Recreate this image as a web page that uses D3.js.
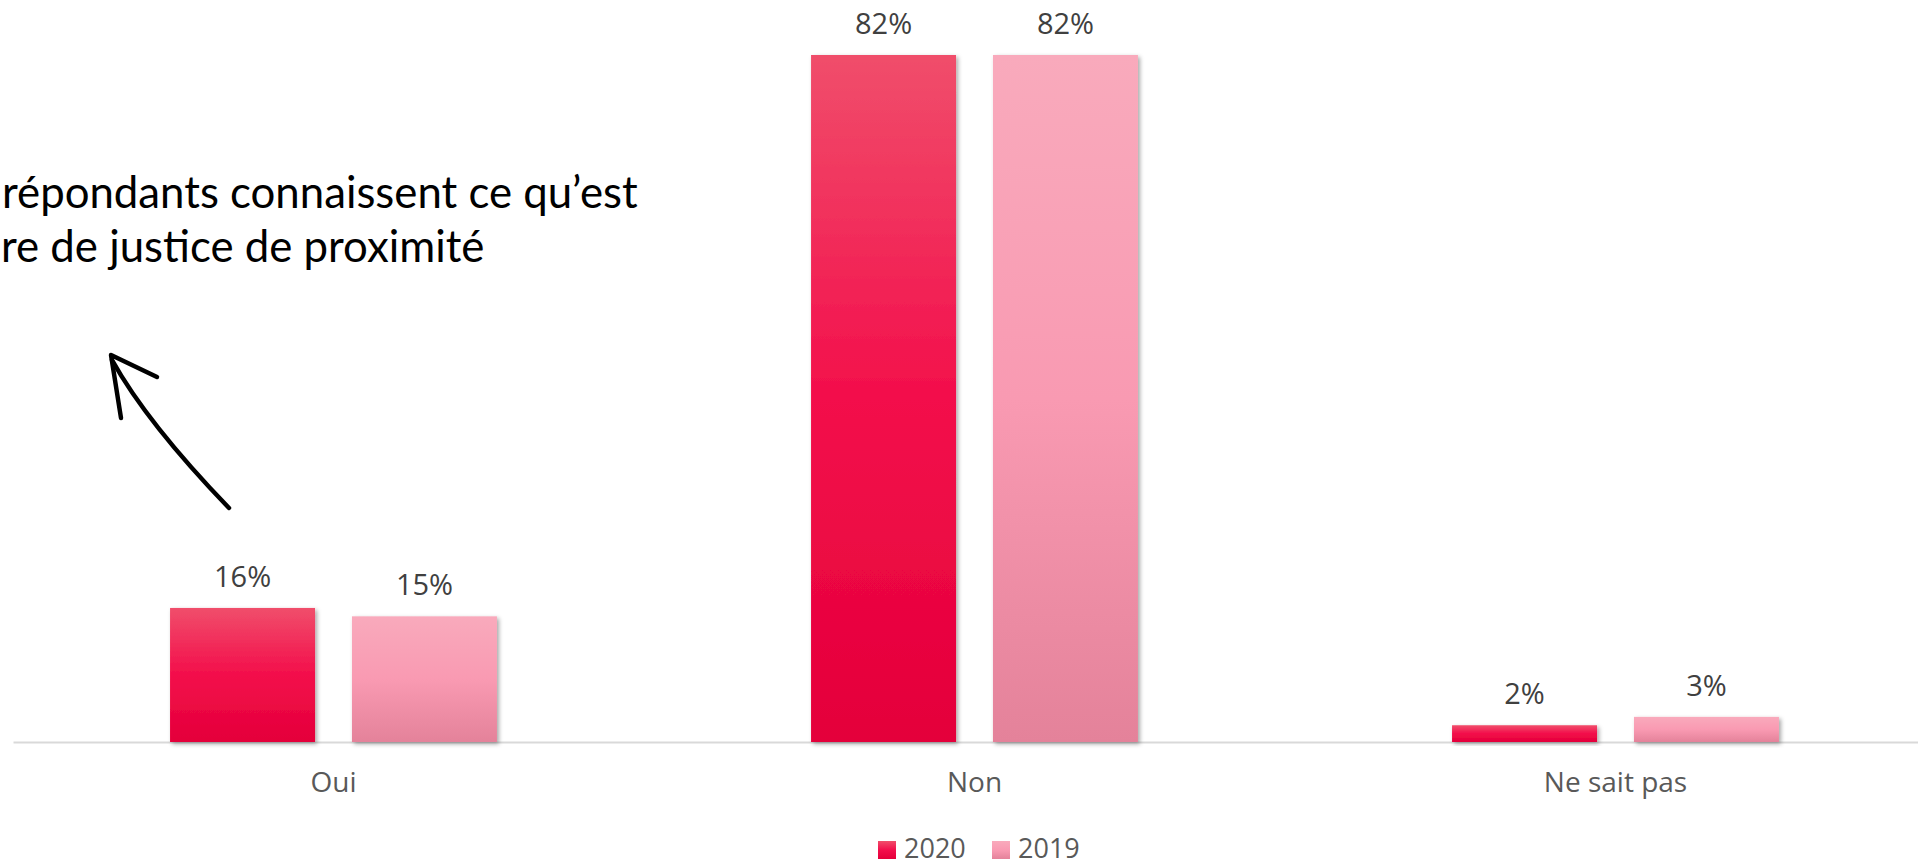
<!DOCTYPE html>
<html>
<head>
<meta charset="utf-8">
<script src="https://cdn.jsdelivr.net/npm/d3@7/dist/d3.min.js"></script>
<style>
  html, body { margin: 0; padding: 0; background: #fff; overflow: hidden; }
  svg { display: block; }
</style>
</head>
<body>
<svg id="chart" width="1918" height="866"></svg>
<script>
// ---- data ----
const categories = ["Oui", "Non", "Ne sait pas"];
const series = ["2020", "2019"];
const values2020 = [16, 82, 2];
const values2019 = [15, 82, 3];
const valueLabels2020 = ["16%", "82%", "2%"];
const valueLabels2019 = ["15%", "82%", "3%"];
const annotationLines = ["répondants connaissent ce qu’est", "re de justice de proximité"];

const W = 1918, H = 866;
const svg = d3.select("#chart");
const defs = svg.append("defs");

const gradStops = {
  "2020": [["0%", "#F04E6B"], ["50%", "#F30E4B"], ["100%", "#E4003A"]],
  "2019": [["0%", "#F9AABC"], ["50%", "#F99AB2"], ["100%", "#E4829A"]]
};
series.forEach(s => {
  const g = defs.append("linearGradient").attr("id", "g" + s)
    .attr("x1", 0).attr("y1", 0).attr("x2", 0).attr("y2", 1);
  gradStops[s].forEach(([o, c]) => g.append("stop").attr("offset", o).attr("stop-color", c));
});
const f = defs.append("filter").attr("id", "shadow")
  .attr("x", "-10%").attr("y", "-10%").attr("width", "130%").attr("height", "130%");
f.append("feDropShadow").attr("dx", 2).attr("dy", 2).attr("stdDeviation", 2)
  .attr("flood-color", "#000").attr("flood-opacity", 0.35);

const rows = categories.map((c, i) => ({
  cat: c,
  vals: [
    { s: "2020", v: values2020[i], label: valueLabels2020[i] },
    { s: "2019", v: values2019[i], label: valueLabels2019[i] }
  ]
}));

const x0 = d3.scaleBand().domain(categories).range([13, 1936])
  .paddingInner(0.49).paddingOuter(0.245);
const x1 = d3.scaleBand().domain(series).range([0, x0.bandwidth()])
  .paddingInner(0.203).paddingOuter(0);
const maxV = d3.max([...values2020, ...values2019]);
const y = d3.scaleLinear().domain([0, maxV]).range([742, 55]);

// axis
const axis = svg.append("g").attr("transform", `translate(0,${y(0)})`)
  .call(d3.axisBottom(x0).tickSize(0).tickPadding(30));
axis.select(".domain").attr("stroke", "#D9D9D9").attr("stroke-width", 2);
axis.selectAll("text")
  .attr("font-family", "'Open Sans', sans-serif")
  .attr("font-size", 28).attr("fill", "#595959");

// bars
const groups = svg.append("g").selectAll("g").data(rows).join("g")
  .attr("transform", d => `translate(${x0(d.cat)},0)`);
groups.selectAll("rect").data(d => d.vals).join("rect")
  .attr("x", d => x1(d.s))
  .attr("y", d => y(d.v))
  .attr("width", x1.bandwidth())
  .attr("height", d => y(0) - y(d.v))
  .attr("fill", d => `url(#g${d.s})`)
  .attr("filter", "url(#shadow)");
groups.selectAll("text").data(d => d.vals).join("text")
  .attr("x", d => x1(d.s) + x1.bandwidth() / 2)
  .attr("y", d => y(d.v) - 21)
  .attr("text-anchor", "middle")
  .attr("font-family", "'Open Sans', sans-serif")
  .attr("font-size", 29).attr("fill", "#404040")
  .text(d => d.label);

// legend
const legend = svg.append("g");
const legendItems = [{ s: "2020", x: 878 }, { s: "2019", x: 992 }];
legendItems.forEach(it => {
  legend.append("rect").attr("x", it.x).attr("y", 841).attr("width", 18).attr("height", 18)
    .attr("fill", `url(#g${it.s})`);
  legend.append("text").attr("x", it.x + 26).attr("y", 858)
    .attr("font-family", "'Open Sans', sans-serif").attr("font-size", 27)
    .attr("fill", "#595959").text(it.s);
});

// annotation text
const ann = svg.append("g");
const t1 = ann.append("text").attr("x", 2).attr("y", 208)
  .attr("font-family", "Lato, 'Open Sans', sans-serif").attr("font-size", 40)
  .attr("fill", "#000").text(annotationLines[0]);
const w1 = t1.node().getComputedTextLength();
const fs = 40 * 636 / w1;
t1.attr("font-size", fs);
ann.append("text").attr("x", 1).attr("y", 262)
  .attr("font-family", "Lato, 'Open Sans', sans-serif").attr("font-size", fs)
  .attr("fill", "#000").text(annotationLines[1]);

// hand-drawn arrow
ann.append("path").attr("d", "M229,508 Q147,423 112,360")
  .attr("fill", "none").attr("stroke", "#000").attr("stroke-width", 4.5)
  .attr("stroke-linecap", "round");
ann.append("path").attr("d", "M121,418 L111,355 L157,377")
  .attr("fill", "none").attr("stroke", "#000").attr("stroke-width", 4.5)
  .attr("stroke-linecap", "round").attr("stroke-linejoin", "round");
</script>
</body>
</html>
